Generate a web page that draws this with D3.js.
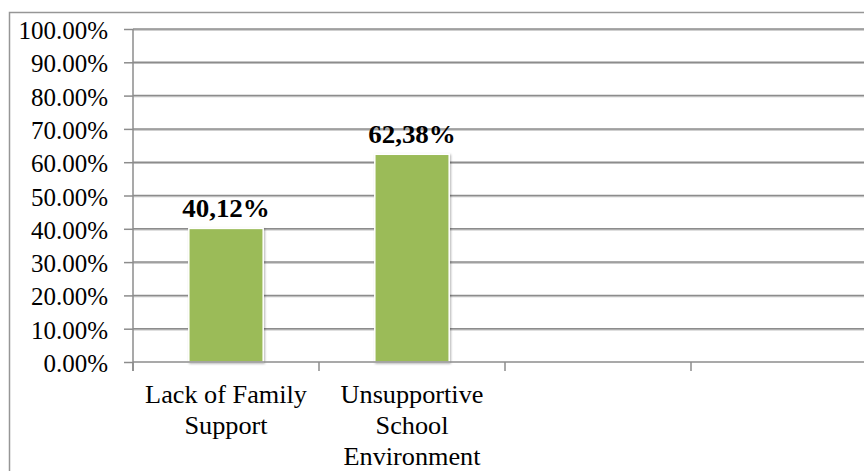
<!DOCTYPE html>
<html><head><meta charset="utf-8">
<script src="https://cdn.jsdelivr.net/npm/d3@7"></script>
<style>html,body{margin:0;padding:0;background:#fff;}svg{display:block;}</style>
</head><body>
<script>
const categories = ["Lack of Family Support", "Unsupportive School Environment", "C3", "C4"];
const categoryLines = [["Lack of Family", "Support"], ["Unsupportive", "School", "Environment"], [], []];
const values = [0.4012, 0.6238];
const valueLabels = ["40,12%", "62,38%"];
const yTicks = [0, 0.1, 0.2, 0.3, 0.4, 0.5, 0.6, 0.7, 0.8, 0.9, 1.0];

const W = 864, H = 471;
const svg = d3.select("body").append("svg").attr("width", W).attr("height", H);
const font = "'Liberation Serif','Times New Roman',serif";
const fs = 25;

const defs = svg.append("defs");
const f = defs.append("filter").attr("id","sh").attr("x","-20%").attr("y","-20%").attr("width","140%").attr("height","140%");
f.append("feDropShadow").attr("dx",1).attr("dy",1).attr("stdDeviation",1.2).attr("flood-color","#000").attr("flood-opacity",0.3);
const g2 = defs.append("filter").attr("id","gsh").attr("filterUnits","userSpaceOnUse")
  .attr("x",0).attr("y",0).attr("width",W).attr("height",H);
g2.append("feDropShadow").attr("dx",0).attr("dy",1).attr("stdDeviation",0.6).attr("flood-color","#000").attr("flood-opacity",0.25);

// outer border
svg.append("rect").attr("x",9.5).attr("y",12.5).attr("width",W+20).attr("height",H+20)
  .attr("fill","none").attr("stroke","#969696").attr("stroke-width",1.5);

const x = d3.scaleBand().domain(categories).range([133, 877]).paddingInner(0.6).paddingOuter(0.3);
const y = d3.scaleLinear().domain([0, 1]).range([362, 29]);

// gridlines
svg.append("g").attr("filter","url(#gsh)").selectAll("line").data(yTicks.slice(1)).join("line")
  .attr("x1",133).attr("x2",W+5).attr("y1",d=>y(d)).attr("y2",d=>y(d))
  .attr("stroke","#8c8c8c").attr("stroke-width",1.5);

// y axis
const yAxis = svg.append("g").attr("transform","translate(133,0)")
  .call(d3.axisLeft(y).tickValues(yTicks).tickSize(9).tickPadding(16).tickFormat(d3.format(".2%")));
yAxis.select(".domain").remove();
yAxis.selectAll(".tick line").attr("stroke","#8c8c8c").attr("stroke-width",1.5);
yAxis.selectAll(".tick text").attr("dy",null)
  .attr("font-family",font).attr("font-size",fs).attr("fill","#000")
  .attr("text-anchor","end").attr("dominant-baseline","central").attr("y",1);
svg.append("line").attr("x1",133).attr("x2",133).attr("y1",y(1)).attr("y2",371)
  .attr("stroke","#8c8c8c").attr("stroke-width",1.5);

// bars
svg.append("g").selectAll("rect").data(values).join("rect")
  .attr("x",(d,i)=>x(categories[i])).attr("width",x.bandwidth())
  .attr("y",d=>y(d)).attr("height",d=>y(0)-y(d))
  .attr("fill","#9BBB59").attr("stroke","#fff").attr("stroke-width",1.5).attr("filter","url(#sh)");

// x axis
svg.append("line").attr("x1",133).attr("x2",W+5).attr("y1",y(0)).attr("y2",y(0))
  .attr("stroke","#8c8c8c").attr("stroke-width",1.5);
svg.append("g").selectAll("line").data(categories).join("line")
  .attr("x1",c=>x(c)-x.step()*0.3).attr("x2",c=>x(c)-x.step()*0.3)
  .attr("y1",y(0)).attr("y2",371).attr("stroke","#8c8c8c").attr("stroke-width",1.5);

// category labels
categories.forEach((c,i)=>{
  const cx = x(c) + x.bandwidth()/2;
  const t = svg.append("text").attr("font-family",font).attr("font-size",fs).attr("fill","#000")
    .attr("text-anchor","middle").attr("transform",`translate(${cx},403) scale(1.05,1)`);
  categoryLines[i].forEach((ln,j)=>{
    t.append("tspan").attr("x",0).attr("y",j*31).text(ln);
  });
});

// value labels
svg.append("g").selectAll("text").data(values).join("text")
  .attr("transform",(d,i)=>`translate(${x(categories[i])+x.bandwidth()/2},${y(d)-11}) scale(1.08,1)`)
  .attr("text-anchor","middle").attr("font-family",font).attr("font-size",fs).attr("font-weight","bold")
  .attr("fill","#000").text((d,i)=>valueLabels[i]);
</script>
</body></html>
